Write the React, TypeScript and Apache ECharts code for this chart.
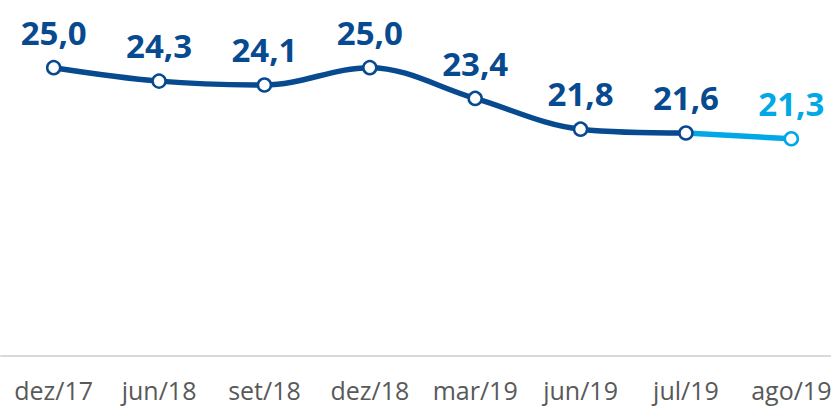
import React, { useEffect, useRef } from "react";
import * as echarts from "echarts";

const categories = ["dez/17", "jun/18", "set/18", "dez/18", "mar/19", "jun/19", "jul/19", "ago/19"];
const mainValues: (number | string)[] = [25.0, 24.3, 24.1, 25.0, 23.4, 21.8, 21.6, "-"];
const lastValues: (number | string)[] = ["-", "-", "-", "-", "-", "-", 21.6, 21.3];

const DARK = "#084A8F";
const LIGHT = "#00A9E6";

export default function App() {
  const ref = useRef<HTMLDivElement>(null);
  useEffect(() => {
    if (!ref.current) return;
    const chart = echarts.init(ref.current, undefined, { renderer: "svg" });
    const fmt = (p: any) => Number(p.value).toFixed(1).replace(".", ",");
    const labelBase = {
      show: true,
      position: "top",
      distance: 11,
      fontFamily: "Open Sans",
      fontWeight: "bold",
      fontSize: 33,
      formatter: fmt,
    };
    chart.setOption({
      animation: false,
      grid: { left: 1, right: 1, top: 10, bottom: 53 },
      xAxis: {
        type: "category",
        data: categories,
        boundaryGap: true,
        axisLine: { lineStyle: { color: "#D9D9D9", width: 2 } },
        axisTick: { show: false },
        axisLabel: {
          interval: 0,
          color: "#595959",
          fontFamily: "Open Sans",
          fontSize: 25,
          margin: 21,
          hideOverlap: false,
        },
      },
      yAxis: {
        type: "value",
        min: 10,
        max: 28,
        show: false,
        splitLine: { show: false },
      },
      series: [
        {
          type: "line",
          data: lastValues.map((v, i) =>
            i === 6 ? { value: v, symbol: "none", label: { show: false } } : v
          ),
          smooth: 0.35,
          z: 2,
          symbol: "circle",
          symbolSize: 13,
          lineStyle: { color: LIGHT, width: 5.5 },
          itemStyle: { color: "#fff", borderColor: LIGHT, borderWidth: 2.5 },
          label: { ...labelBase, color: LIGHT },
        },
        {
          type: "line",
          data: mainValues,
          smooth: 0.35,
          z: 3,
          symbol: "circle",
          symbolSize: 13,
          lineStyle: { color: DARK, width: 5.5 },
          itemStyle: { color: "#fff", borderColor: DARK, borderWidth: 2.5 },
          label: { ...labelBase, color: DARK },
        },
      ],
    });
    return () => chart.dispose();
  }, []);
  return (
    <div style={{ position: "fixed", left: 0, top: 0, width: 831, height: 409, overflow: "hidden", background: "#fff" }}>
      <div ref={ref} style={{ width: 845, height: 409 }} />
    </div>
  );
}
